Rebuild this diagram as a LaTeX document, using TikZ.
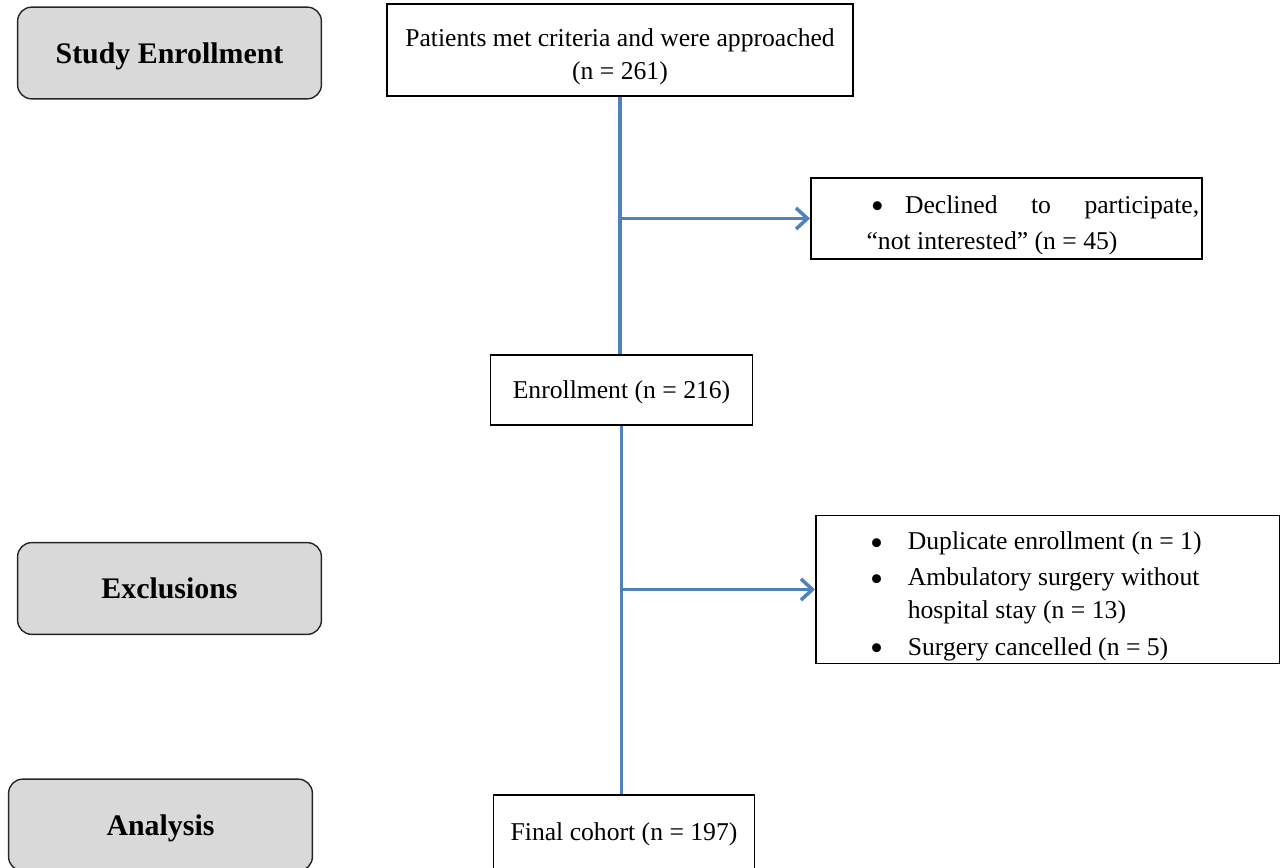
\documentclass[tikz,border=0pt]{standalone}
\usepackage{fontspec}
\setmainfont{Liberation Serif}
\usepackage{xcolor}
\usepackage{graphicx}
\usetikzlibrary{arrows.meta}
\definecolor{flowblue}{HTML}{4F81BD}
\definecolor{stagegray}{HTML}{D9D9D9}
\newcommand{\listdot}{\raisebox{-3.2pt}[0.55em][0pt]{\scalebox{1.45}{\textbullet}}} % 大きめの黒丸
\newcommand{\lowertext}[1]{\raisebox{-3.5pt}[\height][\depth]{#1}} % 文字を少し下げる

\begin{document}
\begin{tikzpicture}[x=0.02cm, y=-0.02cm, % 1単位 = 1px、y軸は下向き
    stage/.style={draw=black!85, fill=stagegray, rounded corners=8pt, line width=0.8pt, text depth=0pt,
      minimum width=172.9pt, minimum height=52.2pt, font=\fontsize{17}{20}\selectfont\bfseries}, % 左の段階ボックス
    box/.style={draw, line width=0.85pt, inner sep=0pt, align=center,
      font=\fontsize{14.6}{18.7}\selectfont}, % 右の白ボックス
    flow/.style={flowblue, line width=2pt}, % 青い線
    arr/.style={flow, -{Straight Barb[length=6.5pt, width=12pt]}}] % 青い矢印
    \useasboundingbox (0,0) rectangle (1286,868); % 図の大きさ
    \clip (0,0) rectangle (1286,868); % 下端で切る

    % 左側の段階
    \node[stage] (enrolstage) at (169.5,53) {Study Enrollment};
    \node[stage] (exclstage) at (169.5,588.5) {Exclusions};
    \node[stage] (analstage) at (160.5,825) {Analysis};

    % 右側の流れ
    \node[box, minimum width=265.3pt, minimum height=52.2pt] (met) at (620,50)
      {\lowertext{\begin{tabular}{@{}c@{}}Patients met criteria and were approached\\(n = 261)\end{tabular}}};
    \node[box, minimum width=222.8pt, minimum height=45.9pt] (declined) at (1006.5,218.5)
      {\lowertext{\begin{tabular}{@{\hspace{31.7pt}}l@{\hspace{1.7pt}}}
        \makebox[189.3pt][s]{\hspace*{2.5pt}\listdot\hspace*{12pt}Declined to participate,}\\[1.7pt]
        “not interested” (n = 45)
      \end{tabular}}};
    \node[box, minimum width=149.1pt, minimum height=39.7pt, text depth=0pt] (enrolled) at (621.5,390)
      {Enrollment (n = 216)};
    \node[box, minimum width=263.6pt, minimum height=84.5pt] (dropped) at (1047.5,589.5)
      {\lowertext{\begin{tabular}{@{\hspace{31pt}}c@{\hspace{14pt}}p{211.4pt}@{}}
        \listdot & Duplicate enrollment (n = 1)\\[2pt]
        \listdot & Ambulatory surgery without\\
                 & hospital stay (n = 13)\\[2pt]
        \listdot & Surgery cancelled (n = 5)
      \end{tabular}}};
    \node[box, minimum width=148.5pt, minimum height=42pt, text depth=0pt] (final) at (624,832)
      {Final cohort (n = 197)};

    % 線と矢印
    \draw[flow] (met.south) -- (met.south |- enrolled.north);
    \coordinate (split1) at (met.south |- declined.west); % 分岐点
    \draw[arr] (split1) -- (declined.west);
    \draw[flow] (enrolled.south) -- (enrolled.south |- final.north);
    \coordinate (split2) at (enrolled.south |- dropped.west);
    \draw[arr] (split2) -- (dropped.west);
\end{tikzpicture}
\end{document}
